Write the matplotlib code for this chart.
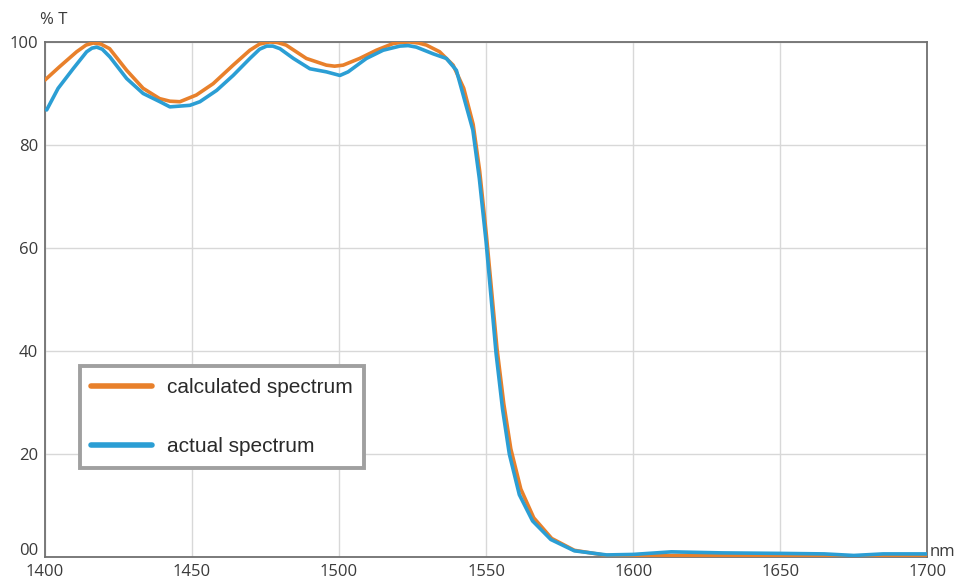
import numpy as np
import matplotlib.pyplot as plt
import matplotlib.transforms as mtransforms

# Wavelength (nm) and transmission (%) of the edge filter
calc_nm = [1400, 1405, 1410.8, 1414, 1416.4, 1419, 1422, 1427.8, 1433.4, 1439, 1442.5,
           1445.9, 1451.5, 1457.2, 1464, 1469.7, 1473, 1476.4, 1479, 1482, 1488.9,
           1495.7, 1498.5, 1501.4, 1507, 1512.7, 1518.4, 1521, 1524, 1527, 1529.7,
           1534.2, 1538.8, 1542.4, 1545.6, 1547.8, 1550.1, 1551.9, 1553.7, 1556,
           1558.4, 1561.8, 1566.2, 1572.3, 1580, 1591, 1600, 1615, 1630, 1650, 1670,
           1685, 1700]
calc_t = [92.6, 95.2, 98.1, 99.4, 99.8, 99.6, 98.7, 94.5, 91.0, 89.0, 88.5,
          88.4, 89.7, 91.9, 95.5, 98.4, 99.6, 100.0, 99.9, 99.4, 96.8,
          95.5, 95.3, 95.5, 96.8, 98.4, 99.7, 99.9, 100.0, 99.8, 99.4,
          98.1, 95.5, 91.0, 84.0, 75.0, 62.5, 51.5, 40.5, 29.8,
          21.0, 13.2, 7.6, 3.6, 1.3, 0.3, 0.2, 0.3, 0.3, 0.3, 0.2,
          0.2, 0.2]

actual_nm = [1400.6, 1404.5, 1409.6, 1414.2, 1416, 1417.6, 1419.5, 1422.1, 1427.8,
             1433.4, 1439.1, 1442.5, 1449.3, 1452.7, 1458.4, 1464, 1469.7, 1473,
             1475.4, 1477.5, 1479.9, 1484.5, 1490.1, 1495.7, 1500.3, 1503.1, 1509.3,
             1515, 1520.7, 1523.5, 1526.3, 1532, 1536.5, 1539.9, 1542.7, 1545.5,
             1547.7, 1550, 1551.7, 1553.4, 1555.6, 1557.9, 1561.3, 1565.8, 1572,
             1580, 1591, 1600, 1613, 1630, 1650, 1665, 1675, 1685, 1700]
actual_t = [86.8, 91.0, 94.8, 98.1, 98.8, 99.0, 98.6, 97.1, 92.9,
            90.0, 88.4, 87.4, 87.7, 88.4, 90.6, 93.5, 96.8, 98.6,
            99.2, 99.2, 98.7, 96.8, 94.8, 94.2, 93.5, 94.2, 96.8,
            98.4, 99.2, 99.3, 99.0, 97.7, 96.8, 94.5, 88.7, 82.9,
            73.5, 61.2, 50.4, 39.5, 28.7, 20.0, 12.1, 7.0, 3.4,
            1.2, 0.4, 0.5, 1.0, 0.8, 0.7, 0.6, 0.3, 0.6, 0.6]

x_ticks = [1400, 1450, 1500, 1550, 1600, 1650, 1700]
y_ticks = [0, 20, 40, 60, 80, 100]
y_labels = ['00', '20', '40', '60', '80', '100']

orange = '#E8802B'
blue = '#2B9ED4'
tick_color = '#3a3a3a'

fig = plt.figure(figsize=(9.55, 5.83), dpi=100)
ax = fig.add_axes([0.047, 0.0446, 0.924, 0.8834])

ax.plot(calc_nm, calc_t, color=orange, lw=2.6, label='calculated spectrum',
        solid_capstyle='round', solid_joinstyle='round', zorder=3)
ax.plot(actual_nm, actual_t, color=blue, lw=2.6, label='actual spectrum',
        solid_capstyle='round', solid_joinstyle='round', zorder=4)

ax.set_xlim(1400, 1700)
ax.set_ylim(0, 100)
ax.set_xticks(x_ticks)
ax.set_yticks(y_ticks)
ax.set_yticklabels(y_labels)
ax.tick_params(length=0, pad=5, labelsize=12, labelcolor=tick_color)
for lab in ax.get_xticklabels() + ax.get_yticklabels():
    lab.set_fontfamily('Open Sans')
# nudge the "00" label up so it clears the 1400 label
zero_lab = ax.get_yticklabels()[0]
zero_lab.set_transform(zero_lab.get_transform() +
                       mtransforms.ScaledTranslation(0, 6 / 72, fig.dpi_scale_trans))
ax.grid(True, color='#d8d8d8', lw=1.0)
ax.set_axisbelow(True)
for side in ['left', 'bottom', 'top', 'right']:
    ax.spines[side].set_color('#707070')
    ax.spines[side].set_linewidth(1.3)

ax.text(-0.006, 1.027, '% T', transform=ax.transAxes, fontsize=12,
        family='Open Sans', color=tick_color, ha='left', va='bottom')
ax.text(1.003, -0.005, 'nm', transform=ax.transAxes, fontsize=12,
        family='Open Sans', color=tick_color, ha='left', va='bottom')

leg = ax.legend(loc='lower left', bbox_to_anchor=(0.0397, 0.173),
                prop={'family': 'Liberation Sans', 'size': 15},
                frameon=True, fancybox=False, labelspacing=1.95,
                handlelength=2.9, handletextpad=0.72, borderpad=0.55,
                borderaxespad=0)
leg.get_frame().set_edgecolor('#a0a0a0')
leg.get_frame().set_linewidth(2.8)
leg.get_frame().set_facecolor('white')
leg.get_frame().set_alpha(1)
for line in leg.get_lines():
    line.set_linewidth(4)
for txt in leg.get_texts():
    txt.set_color('#2a2a2a')

fig.savefig('out.png', dpi=100)
